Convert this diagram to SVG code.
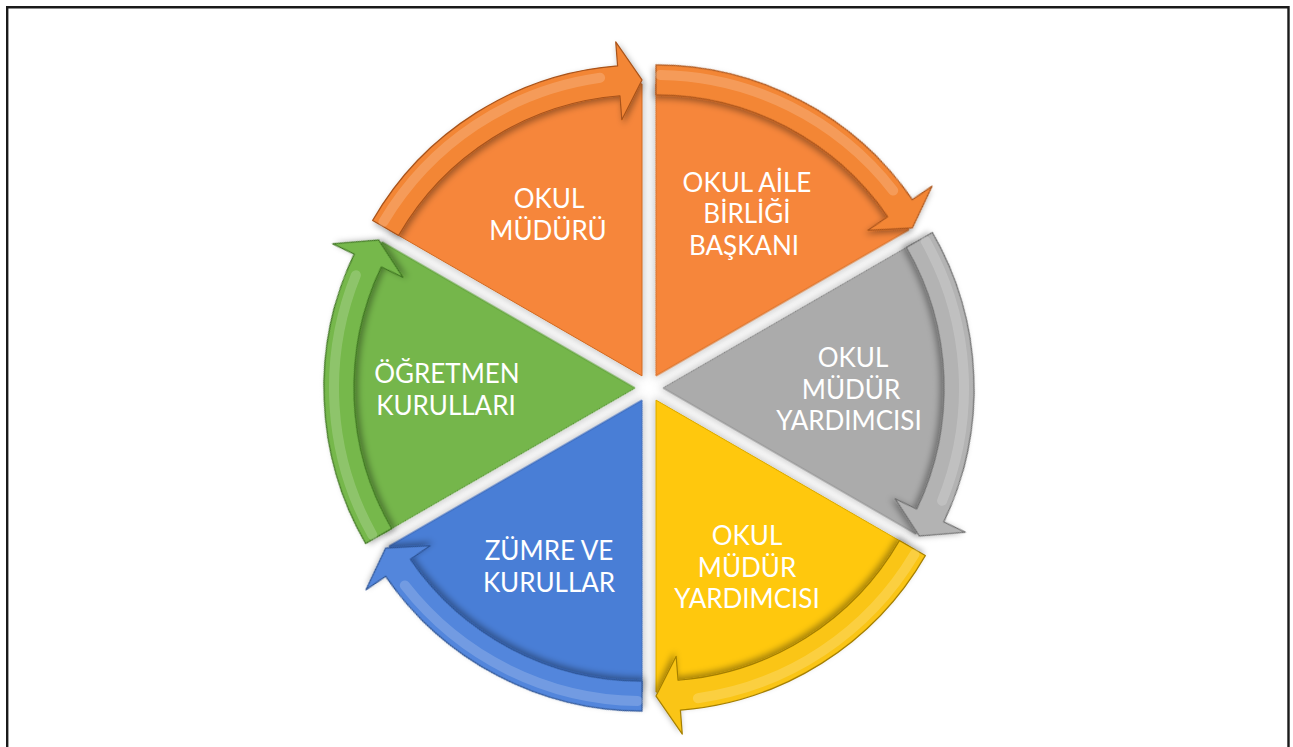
<svg xmlns="http://www.w3.org/2000/svg" width="1293" height="747" viewBox="0 0 1293 747">
<defs>
<filter id="sh" x="-20%" y="-20%" width="140%" height="140%">
<feDropShadow dx="2" dy="3" stdDeviation="3" flood-color="#000" flood-opacity="0.35"/>
</filter>
<filter id="sh2" x="-20%" y="-20%" width="140%" height="140%">
<feDropShadow dx="1" dy="2" stdDeviation="4" flood-color="#000" flood-opacity="0.25"/>
</filter>
<path id="slice" d="M0,0 L-252.88,-146 A292,292 0 0 1 0,-292 Z"/>
<path id="band" d="M-269.33,-155.5 A311,311 0 0 1 -24.40,-310.04 L-26.28,-333.97 L0,-296 L-20.16,-256.21 L-22.05,-280.13 A281,281 0 0 0 -243.35,-140.5 Z"/>
<path id="hl" d="M-258.5,-154.1 A301,301 0 0 1 -41.9,-298.1"/>
</defs>
<style>
.t{font-family:Lato,"Liberation Sans",sans-serif;font-size:26px;fill:#fff;text-anchor:middle}
.s{filter:url(#sh2)}
.b{filter:url(#sh);stroke-width:1.2;stroke-linejoin:round}
.h{fill:none;stroke:#fff;stroke-opacity:0.18;stroke-width:10;stroke-linecap:round}
.bd{fill:none;stroke:#1a1a1a;stroke-width:2.4}
</style>
<rect width="1293" height="747" fill="#fff"/>
<path class="bd" d="M7.2,747 V7.2 H1288.5 V747"/>
<g id="n1" transform="translate(642,375.9)">
<use href="#slice" class="s" fill="#F6863A" stroke="#D06A22" stroke-width="1"/>
<use href="#band" class="b" fill="#F38636" stroke="#A9531A"/>
<use href="#hl" class="h"/>
</g>
<g id="n2" transform="translate(656,375.9) rotate(60)">
<use href="#slice" class="s" fill="#F6863A" stroke="#D06A22" stroke-width="1"/>
<use href="#band" class="b" fill="#F38636" stroke="#A9531A"/>
<use href="#hl" class="h"/>
</g>
<g id="n3" transform="translate(663,388) rotate(120)">
<use href="#slice" class="s" fill="#ABABAB" stroke="#8A8A8A" stroke-width="1"/>
<use href="#band" class="b" fill="#B3B3B3" stroke="#6E6E6E"/>
<use href="#hl" class="h"/>
</g>
<g id="n4" transform="translate(656,400.1) rotate(180)">
<use href="#slice" class="s" fill="#FFC808" stroke="#D9A800" stroke-width="1"/>
<use href="#band" class="b" fill="#FAC512" stroke="#A57F00"/>
<use href="#hl" class="h"/>
</g>
<g id="n5" transform="translate(642,400.1) rotate(240)">
<use href="#slice" class="s" fill="#4A7ED6" stroke="#3764B3" stroke-width="1"/>
<use href="#band" class="b" fill="#5286DC" stroke="#2C5293"/>
<use href="#hl" class="h"/>
</g>
<g id="n6" transform="translate(635,388) rotate(300)">
<use href="#slice" class="s" fill="#74B64B" stroke="#5B9A36" stroke-width="1"/>
<use href="#band" class="b" fill="#76B84C" stroke="#3E7420"/>
<use href="#hl" class="h"/>
</g>
<g id="labels">
<text class="t" x="549" y="208">OKUL</text>
<text class="t" x="548" y="240">MÜDÜRÜ</text>
<text class="t" x="747" y="192">OKUL AİLE</text>
<text class="t" x="747" y="223">BİRLİĞİ</text>
<text class="t" x="744" y="255">BAŞKANI</text>
<text class="t" x="853" y="367">OKUL</text>
<text class="t" x="851" y="399">MÜDÜR</text>
<text class="t" x="849" y="430">YARDIMCISI</text>
<text class="t" x="747" y="545">OKUL</text>
<text class="t" x="747" y="577">MÜDÜR</text>
<text class="t" x="747" y="608">YARDIMCISI</text>
<text class="t" x="549" y="560">ZÜMRE VE</text>
<text class="t" x="549" y="592">KURULLAR</text>
<text class="t" x="447" y="383">ÖĞRETMEN</text>
<text class="t" x="446" y="415">KURULLARI</text>
</g>
</svg>
